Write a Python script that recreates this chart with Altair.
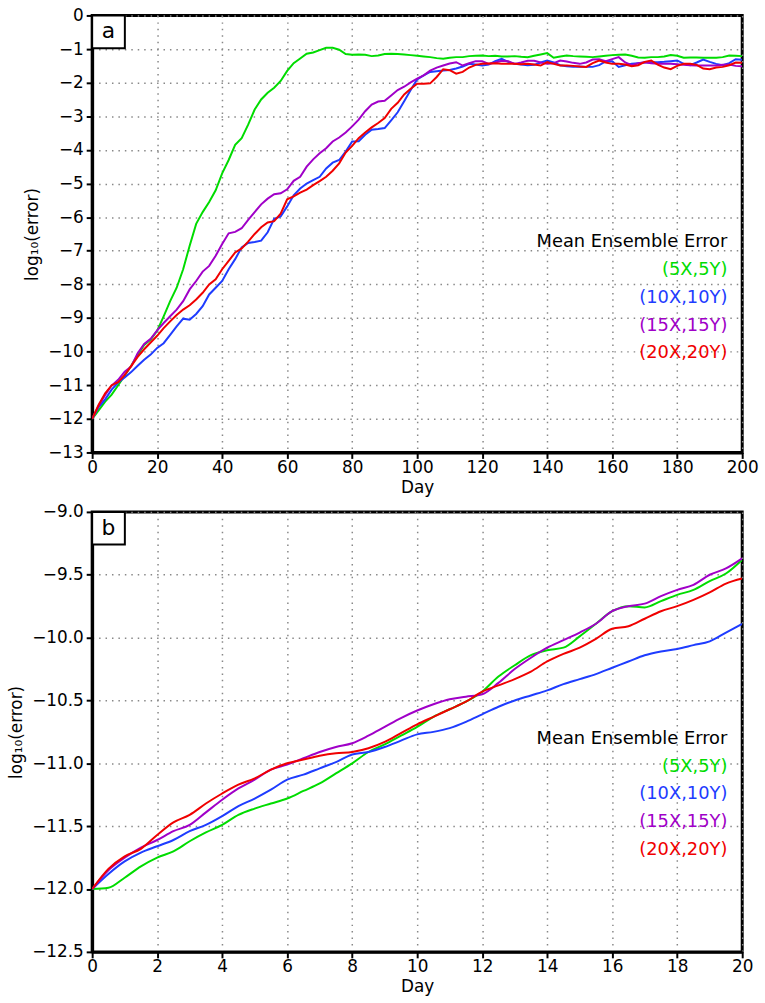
import altair as alt
import pandas as pd

# ---------------- data ----------------
SERIES = ["(5X,5Y)", "(10X,10Y)", "(15X,15Y)", "(20X,20Y)"]
COLORS = ["#00dc00", "#1e3cff", "#a000c8", "#f00000"]

days_a = list(range(0, 201, 2))
green_a = [-12.0, -11.75, -11.49, -11.28, -11.0, -10.72, -10.42, -10.10, -9.80, -9.64,
           -9.38, -8.95, -8.5, -8.1, -7.55, -6.85, -6.2, -5.85, -5.55, -5.2,
           -4.7, -4.3, -3.85, -3.65, -3.25, -2.8, -2.5, -2.3, -2.15, -1.95,
           -1.65, -1.42, -1.28, -1.14, -1.1, -1.03, -0.96, -0.96, -1.02, -1.15,
           -1.17, -1.16, -1.17, -1.21, -1.19, -1.15, -1.14, -1.15, -1.16, -1.18,
           -1.20, -1.22, -1.24, -1.27, -1.29, -1.26, -1.24, -1.24, -1.21, -1.20,
           -1.19, -1.21, -1.20, -1.22, -1.22, -1.21, -1.23, -1.24, -1.20, -1.16,
           -1.12, -1.26, -1.22, -1.19, -1.21, -1.22, -1.23, -1.24, -1.22, -1.20,
           -1.18, -1.17, -1.16, -1.20, -1.25, -1.26, -1.24, -1.24, -1.22, -1.18,
           -1.20, -1.26, -1.25, -1.25, -1.26, -1.26, -1.26, -1.24, -1.19, -1.20,
           -1.21]
blue_a = [-12.0, -11.65, -11.42, -11.13, -10.92, -10.77, -10.61, -10.42, -10.24, -10.09,
          -9.89, -9.75, -9.5, -9.25, -9.02, -9.05, -8.88, -8.65, -8.3, -8.1,
          -7.9, -7.55, -7.25, -6.9, -6.77, -6.74, -6.70, -6.45, -6.05, -5.98,
          -5.68, -5.35, -5.15, -5.0, -4.9, -4.8, -4.55, -4.38, -4.3, -4.05,
          -3.75, -3.74, -3.55, -3.4, -3.38, -3.35, -3.12, -2.88, -2.55, -2.22,
          -1.9, -1.78, -1.68, -1.66, -1.64, -1.62, -1.58, -1.52, -1.44, -1.46,
          -1.49, -1.46, -1.36, -1.29, -1.38, -1.44, -1.46, -1.48, -1.47, -1.40,
          -1.34, -1.40, -1.48, -1.51, -1.53, -1.52, -1.53, -1.53, -1.48, -1.37,
          -1.36, -1.53, -1.48, -1.44, -1.42, -1.40, -1.39, -1.39, -1.38, -1.36,
          -1.34, -1.44, -1.48, -1.40, -1.31, -1.38, -1.44, -1.48, -1.42, -1.30,
          -1.32]
purple_a = [-12.0, -11.61, -11.29, -11.01, -10.84, -10.60, -10.44, -10.05, -9.77, -9.62,
            -9.37, -9.15, -8.95, -8.75, -8.5, -8.15, -7.9, -7.62, -7.45, -7.15,
            -6.8, -6.48, -6.44, -6.33, -6.08, -5.85, -5.62, -5.45, -5.32, -5.29,
            -5.17, -4.92, -4.8, -4.5, -4.28, -4.1, -3.95, -3.75, -3.63, -3.48,
            -3.3, -3.1, -2.85, -2.65, -2.56, -2.54, -2.38, -2.22, -2.12, -1.99,
            -1.88, -1.78, -1.64, -1.55, -1.49, -1.43, -1.39, -1.49, -1.42, -1.36,
            -1.36, -1.44, -1.40, -1.35, -1.36, -1.44, -1.40, -1.35, -1.35, -1.40,
            -1.44, -1.42, -1.34, -1.37, -1.41, -1.44, -1.40, -1.31, -1.30, -1.36,
            -1.30, -1.24, -1.40, -1.48, -1.42, -1.39, -1.42, -1.44, -1.44, -1.44,
            -1.45, -1.47, -1.48, -1.49, -1.49, -1.49, -1.49, -1.47, -1.46, -1.50,
            -1.51]
red_a = [-12.0, -11.58, -11.24, -11.0, -10.91, -10.70, -10.43, -10.16, -9.93, -9.73,
         -9.53, -9.3, -9.1, -8.91, -8.75, -8.62, -8.45, -8.25, -8.0, -7.85,
         -7.55, -7.3, -7.05, -6.93, -6.73, -6.5, -6.3, -6.16, -6.12, -5.9,
         -5.47, -5.38, -5.27, -5.18, -5.05, -4.93, -4.8, -4.62, -4.4, -4.08,
         -3.88, -3.65, -3.48, -3.33, -3.2, -3.05, -2.78, -2.6, -2.35, -2.18,
         -2.03, -2.03, -2.02, -1.83, -1.6, -1.63, -1.73, -1.68, -1.55, -1.47,
         -1.44, -1.43, -1.42, -1.44, -1.44, -1.44, -1.45, -1.44, -1.46, -1.49,
         -1.39, -1.44, -1.49, -1.49, -1.50, -1.52, -1.53, -1.42, -1.34, -1.40,
         -1.44, -1.44, -1.46, -1.51, -1.48, -1.38, -1.34, -1.46, -1.55, -1.60,
         -1.50, -1.44, -1.44, -1.47, -1.58, -1.60, -1.55, -1.53, -1.48, -1.40,
         -1.41]

days_b = [i * 0.5 for i in range(41)]
green_b = [-12.0, -11.99, -11.91, -11.82, -11.75, -11.70, -11.62, -11.55, -11.49, -11.41,
           -11.36, -11.32, -11.28, -11.22, -11.16, -11.08, -11.0, -10.91, -10.85, -10.78,
           -10.71, -10.63, -10.57, -10.51, -10.43, -10.31, -10.22, -10.14, -10.10, -10.08,
           -9.99, -9.89, -9.79, -9.75, -9.76, -9.71, -9.66, -9.62, -9.55, -9.49,
           -9.38]
blue_b = [-12.0, -11.88, -11.78, -11.71, -11.66, -11.61, -11.54, -11.49, -11.42, -11.34,
          -11.28, -11.21, -11.13, -11.09, -11.04, -10.99, -10.93, -10.91, -10.87, -10.82,
          -10.77, -10.75, -10.72, -10.67, -10.61, -10.55, -10.50, -10.46, -10.42, -10.37,
          -10.33, -10.29, -10.24, -10.19, -10.14, -10.11, -10.09, -10.06, -10.03, -9.96,
          -9.89]
purple_b = [-12.0, -11.85, -11.75, -11.67, -11.61, -11.54, -11.49, -11.39, -11.29, -11.20,
            -11.13, -11.05, -11.01, -10.96, -10.91, -10.87, -10.84, -10.78, -10.71, -10.64,
            -10.58, -10.53, -10.49, -10.47, -10.45, -10.36, -10.25, -10.16, -10.08, -10.02,
            -9.96, -9.89, -9.79, -9.75, -9.73, -9.67, -9.62, -9.58, -9.50, -9.45,
            -9.37]
red_b = [-12.0, -11.84, -11.74, -11.68, -11.57, -11.47, -11.41, -11.32, -11.24, -11.17,
         -11.12, -11.05, -11.0, -10.97, -10.94, -10.92, -10.91, -10.88, -10.83, -10.76,
         -10.69, -10.63, -10.57, -10.51, -10.43, -10.38, -10.33, -10.27, -10.19, -10.13,
         -10.08, -10.01, -9.93, -9.91, -9.85, -9.79, -9.75, -9.70, -9.64, -9.57,
         -9.53]

LEGEND_TITLE = "Mean Ensemble Error"
Y_TITLE = "log\u2081\u2080(error)"

FONT = "DejaVu Sans"


def long_df(days, arrays):
    rows = []
    for name, arr in zip(SERIES, arrays):
        for d, v in zip(days, arr):
            rows.append({"day": d, "value": v, "series": name})
    return pd.DataFrame(rows)


df_a = long_df(days_a, [green_a, blue_a, purple_a, red_a])
df_b = long_df(days_b, [green_b, blue_b, purple_b, red_b])

W = 656


def panel(df, xdom, xticks, ydom, yticks, yfmt, letter, interp, h):
    x = alt.X("day:Q", scale=alt.Scale(domain=xdom, nice=False, zero=False),
              axis=alt.Axis(values=xticks, title="Day", format="d"))
    y = alt.Y("value:Q", scale=alt.Scale(domain=ydom, nice=False, zero=False),
              axis=alt.Axis(values=yticks, title=Y_TITLE, format=yfmt))
    lines = alt.Chart(df).mark_line(strokeWidth=2, interpolate=interp, clip=True).encode(
        x=x, y=y,
        color=alt.Color("series:N", scale=alt.Scale(domain=SERIES, range=COLORS), legend=None),
        detail="series:N",
    )
    layers = [lines]
    box = alt.Chart(pd.DataFrame({"k": [0]})).mark_rect(
        fill="white", stroke="black", strokeWidth=2
    ).encode(x=alt.value(0), x2=alt.value(33), y=alt.value(0), y2=alt.value(33))
    lab = alt.Chart(pd.DataFrame({"t": [letter]})).mark_text(
        font=FONT, fontSize=22, align="center", baseline="middle", color="black"
    ).encode(text="t:N", x=alt.value(16.5), y=alt.value(16))
    layers += [box, lab]
    texts = [LEGEND_TITLE] + SERIES
    tcolors = ["black"] + COLORS
    for i, (t, c) in enumerate(zip(texts, tcolors)):
        layers.append(
            alt.Chart(pd.DataFrame({"t": [t]})).mark_text(
                font=FONT, fontSize=18, align="right", baseline="middle", color=c
            ).encode(text="t:N", x=alt.value(641), y=alt.value(229 + 28 * i))
        )
    return alt.layer(*layers).properties(width=W, height=h)


top = panel(df_a, [0, 200], list(range(0, 201, 20)), [-13, 0], list(range(-13, 1)), "d", "a",
            "linear", 441)
bot = panel(df_b, [0, 20], list(range(0, 21, 2)), [-12.5, -9.0],
            [-12.5, -12.0, -11.5, -11.0, -10.5, -10.0, -9.5, -9.0], ".1f", "b", "monotone", 444)

chart = alt.vconcat(top, bot, spacing=4).properties(
    padding={"left": 6, "top": 0, "right": 5, "bottom": 2}
).configure(background="white").configure_view(stroke="black", strokeWidth=3).configure_axis(
    domainColor="black", domainWidth=3,
    tickColor="black", tickWidth=2, tickSize=6,
    labelFont=FONT, labelFontSize=17, labelColor="black", labelPadding=3,
    labelFlush=False, labelOverlap=False,
    titleFont=FONT, titleFontSize=17, titleFontWeight="normal", titleColor="black",
    grid=True, gridColor="#888888", gridDash=[1.5, 5], gridWidth=1.5,
).configure_axisX(titlePadding=4, labelPadding=1).configure_axisY(titlePadding=6)

chart.save("out.html", embed_options={"renderer": "svg", "actions": False})
